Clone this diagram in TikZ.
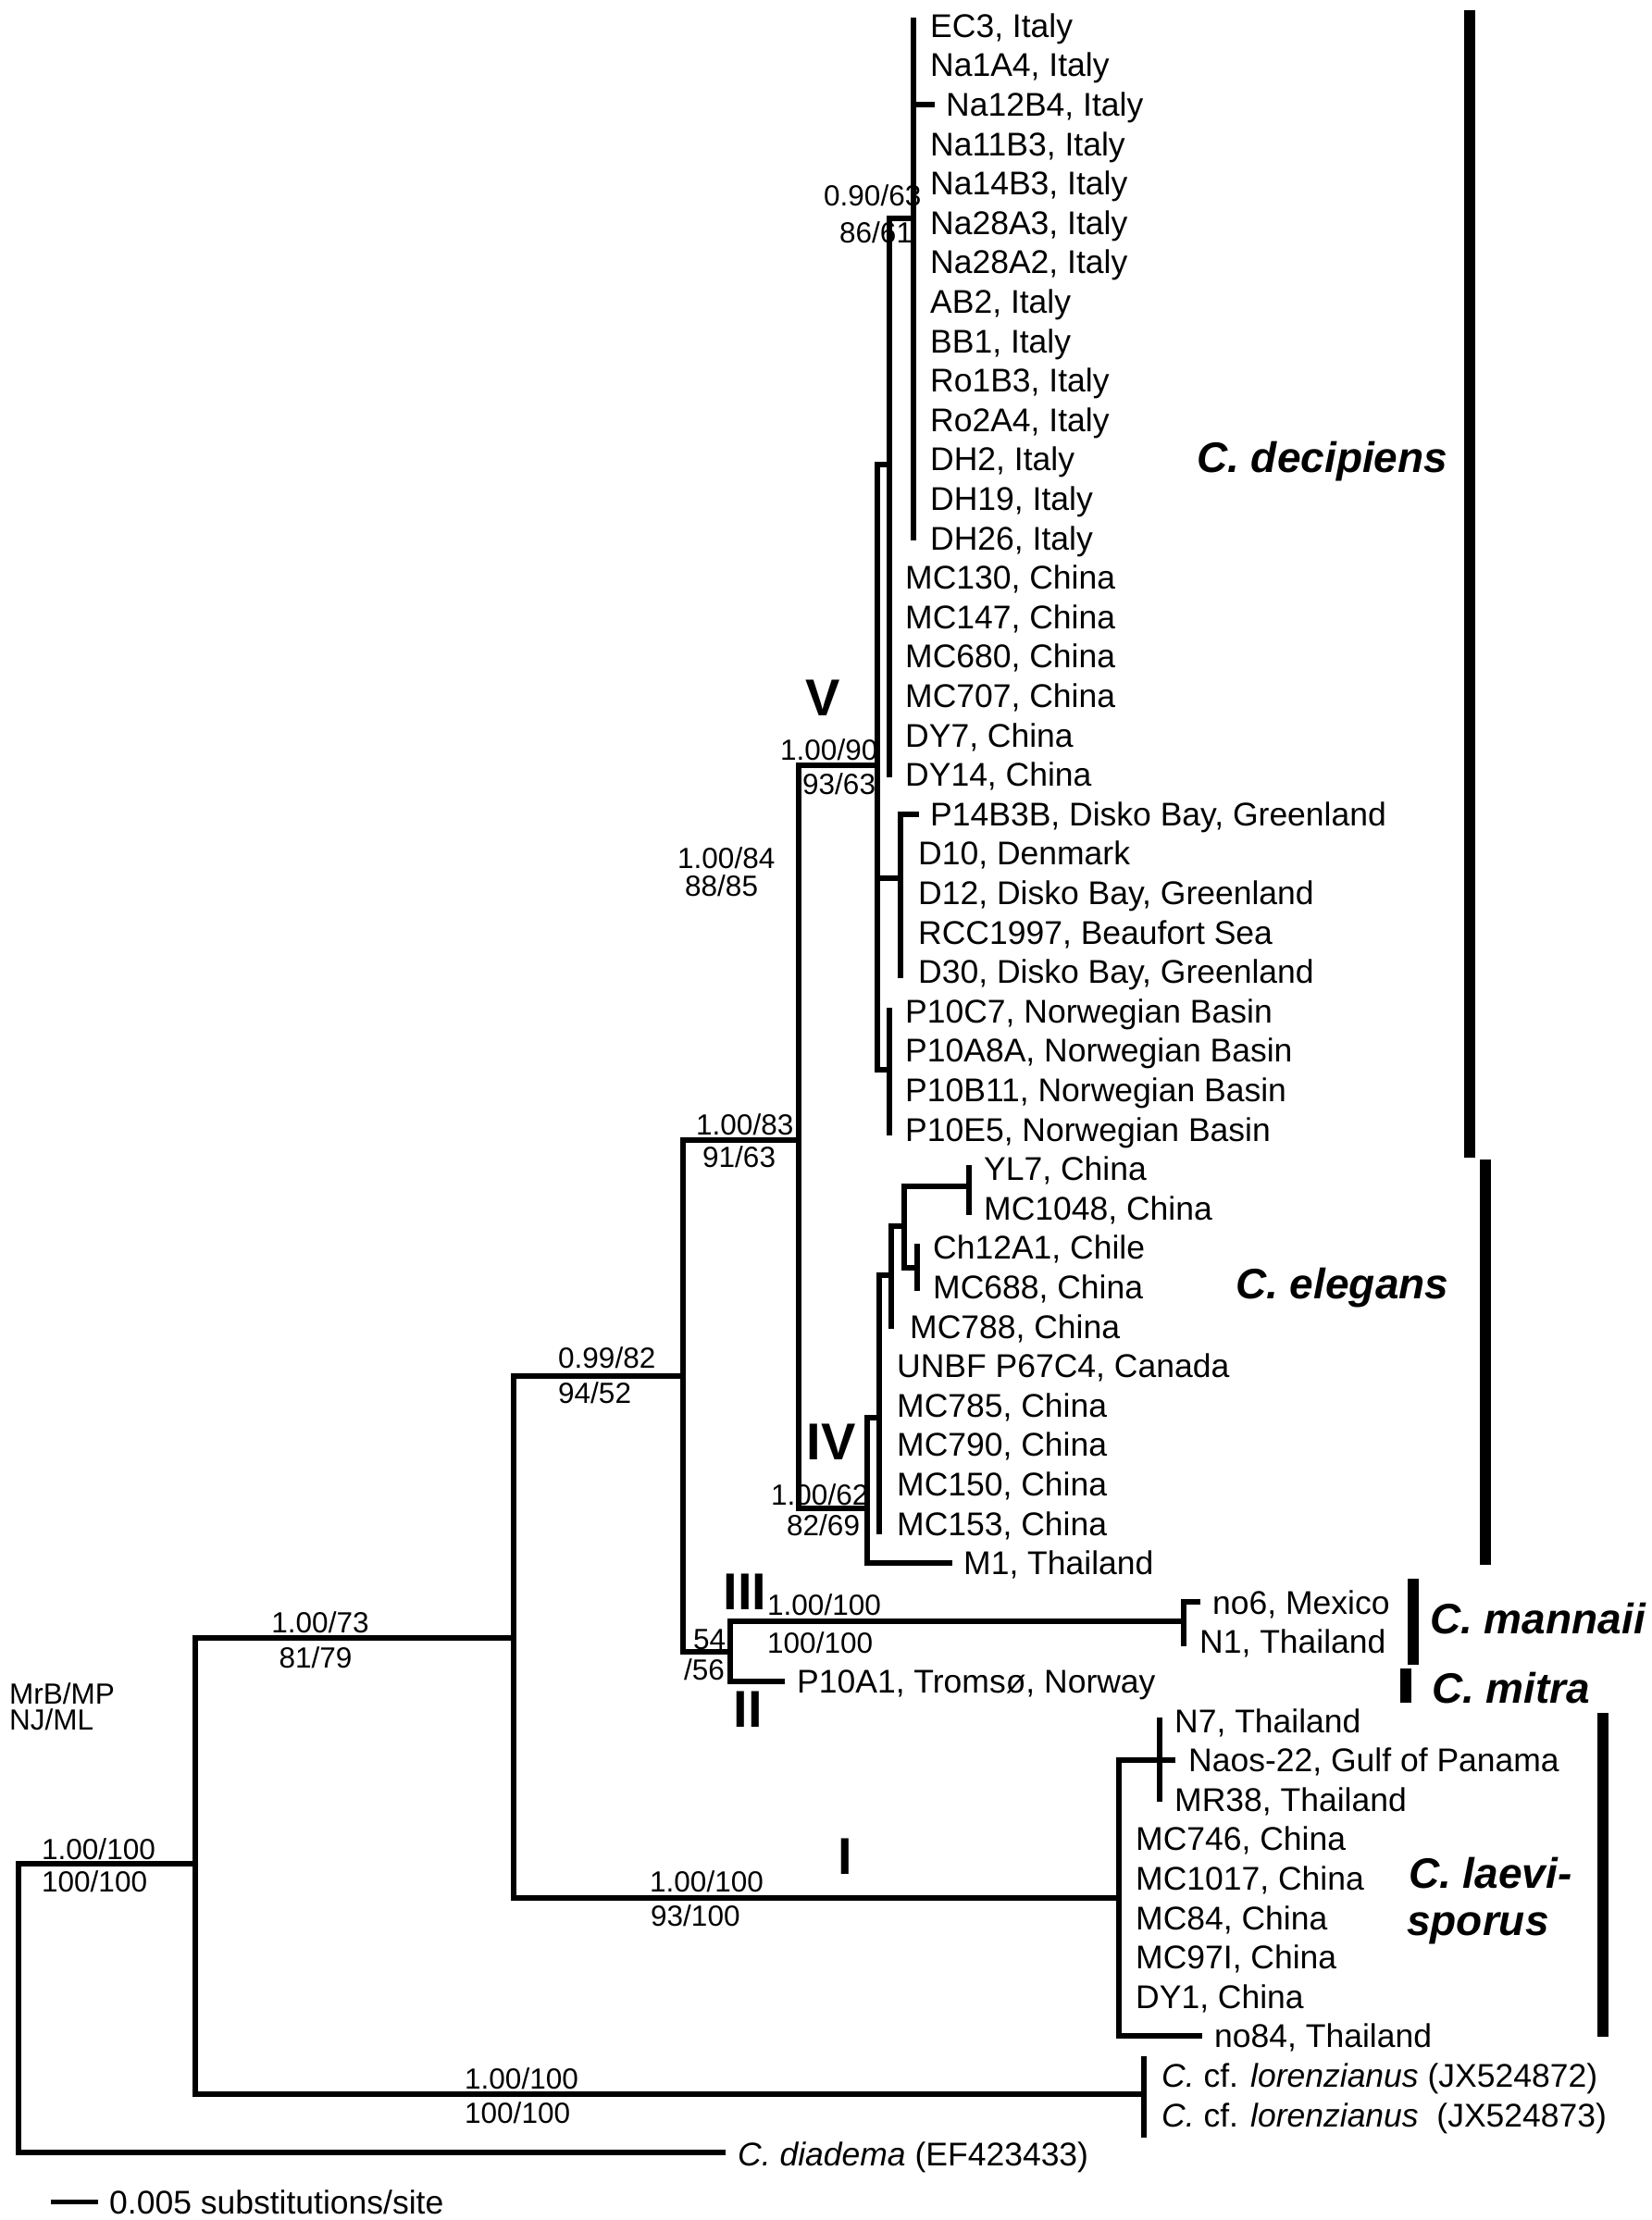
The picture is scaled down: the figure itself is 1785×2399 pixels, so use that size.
\documentclass[tikz,border=0pt]{standalone}
\usepackage{fontspec}
\setmainfont{Liberation Sans}
\begin{document}
\begin{tikzpicture}[x=1pt,y=-1pt,
  br/.style={line width=6pt,line cap=rect,line join=miter},
  bar/.style={line width=12pt,line cap=butt},
  leaf/.style={anchor=base west,inner sep=0pt,font=\fontsize{35.5}{40}\selectfont},
  sup/.style={anchor=base west,inner sep=0pt,font=\fontsize{31.5}{34}\selectfont},
  supc/.style={anchor=base,inner sep=0pt,font=\fontsize{31.5}{34}\selectfont},
  spec/.style={anchor=base west,inner sep=0pt,font=\fontsize{46}{50}\selectfont\bfseries\itshape},
  rom/.style={anchor=base,inner sep=0pt,font=\fontsize{56}{60}\selectfont\bfseries}]
\useasboundingbox (0,0) rectangle (1785,2399);
\fill[white] (0,0) rectangle (1785,2399);

% ---------- leaf labels ----------
\foreach \i/\x/\t in {
 0/1005/{EC3, Italy}, 1/1005/{Na1A4, Italy}, 2/1022/{Na12B4, Italy},
 3/1005/{Na11B3, Italy}, 4/1005/{Na14B3, Italy}, 5/1005/{Na28A3, Italy},
 6/1005/{Na28A2, Italy}, 7/1005/{AB2, Italy}, 8/1005/{BB1, Italy},
 9/1005/{Ro1B3, Italy}, 10/1005/{Ro2A4, Italy}, 11/1005/{DH2, Italy},
 12/1005/{DH19, Italy}, 13/1005/{DH26, Italy},
 14/978/{MC130, China}, 15/978/{MC147, China}, 16/978/{MC680, China},
 17/978/{MC707, China}, 18/978/{DY7, China}, 19/978/{DY14, China},
 20/1005/{P14B3B, Disko Bay, Greenland}, 21/992/{D10, Denmark},
 22/992/{D12, Disko Bay, Greenland}, 23/992/{RCC1997, Beaufort Sea},
 24/992/{D30, Disko Bay, Greenland},
 25/978/{P10C7, Norwegian Basin}, 26/978/{P10A8A, Norwegian Basin},
 27/978/{P10B11, Norwegian Basin}, 28/978/{P10E5, Norwegian Basin},
 29/1063/{YL7, China}, 30/1063/{MC1048, China},
 31/1008/{Ch12A1, Chile}, 32/1008/{MC688, China}, 33/983/{MC788, China},
 34/969/{UNBF P67C4, Canada}, 35/969/{MC785, China}, 36/969/{MC790, China},
 37/969/{MC150, China}, 38/969/{MC153, China}, 39/1041/{M1, Thailand},
 40/1310/{no6, Mexico}, 41/1296/{N1, Thailand},
 42/861/{P10A1, Tromsø, Norway},
 43/1269/{N7, Thailand}, 44/1284/{Naos-22, Gulf of Panama}, 45/1269/{MR38, Thailand},
 46/1227/{MC746, China}, 47/1227/{MC1017, China}, 48/1227/{MC84, China},
 49/1227/{MC97I, China}, 50/1227/{DY1, China}, 51/1312/{no84, Thailand},
 52/1255/{\textit{C.} cf. \textit{lorenzianus} (JX524872)},
 53/1255/{\textit{C.} cf. \textit{lorenzianus}\ \ (JX524873)},
 54/797/{\textit{C. diadema} (EF423433)}}
 \node[leaf] (L\i) at (\x,{40.2+42.6*\i}) {\t};

% ---------- support values ----------
\node[sup] (s1a) at (45,2009) {1.00/100};
\node[sup] (s1b) at (45,2044) {100/100};
\node[supc] (s2a) at (346,1764) {1.00/73};
\node[supc] (s2b) at (341,1802) {81/79};
\node[sup] (s3a) at (502,2257) {1.00/100};
\node[sup] (s3b) at (502,2294) {100/100};
\node[sup] (s4a) at (702,2044) {1.00/100};
\node[sup] (s4b) at (703,2081) {93/100};
\node[sup] (s5a) at (603,1478) {0.99/82};
\node[sup] (s5b) at (603,1516) {94/52};
\node[sup] (s6a) at (752,1226) {1.00/83};
\node[sup] (s6b) at (759,1261) {91/63};
\node[sup] (s7a) at (843,821) {1.00/90};
\node[sup] (s7b) at (867,858) {93/63};
\node[sup] (s8a) at (732,938) {1.00/84};
\node[sup] (s8b) at (740,968) {88/85};
\node[sup] (s9a) at (890,222) {0.90/63};
\node[sup] (s9b) at (907,262) {86/61};
\node[sup] (s10a) at (833,1626) {1.00/62};
\node[sup] (s10b) at (850,1659) {82/69};
\node[sup] (s11a) at (829,1745) {1.00/100};
\node[sup] (s11b) at (829,1786) {100/100};
\node[sup] (s12a) at (749,1782) {54};
\node[sup] (s12b) at (739,1815) {/56};
\node[sup] (mrb) at (10,1841) {MrB/MP};
\node[sup] (njml) at (10,1869) {NJ/ML};

% ---------- clade numerals ----------
\node[rom] (rV) at (889,773) {V};
\node[rom] (rIV) at (898,1577) {IV};
\node[rom] (rIII) at (805,1739) {III};
\node[rom] (rII) at (808,1866) {II};
\node[rom] (rI) at (913,2025) {I};

% ---------- tree coordinates ----------
\coordinate (root) at (20,2014);
\coordinate (A) at (211,2014);
\coordinate (dia) at (781,2326);
\coordinate (B) at (555,1770);
\coordinate (lorN) at (1236,2263);
\coordinate (lorT) at (1236,2225);
\coordinate (lorB) at (1236,2307);
\coordinate (C) at (738,1487);
\coordinate (I) at (1209,2051);
\coordinate (D) at (863,1232);
\coordinate (N54) at (789,1785);
\coordinate (V) at (948,827);
\coordinate (IV) at (937,1630);
\coordinate (V1) at (961,502);
\coordinate (V1B) at (961,837);
\coordinate (Ital) at (987,236);
\coordinate (ItalT) at (987,22);
\coordinate (ItalB) at (987,581);
\coordinate (tNa12) at (1007,112.7);
\coordinate (Disko) at (973,948.5);
\coordinate (DiskoT) at (973,879.5);
\coordinate (DiskoB) at (973,1054);
\coordinate (tP14) at (990,879.5);
\coordinate (P10) at (961,1156);
\coordinate (P10T) at (961,1092);
\coordinate (P10B) at (961,1224);
\coordinate (IVa) at (950,1532);
\coordinate (IVaB) at (950,1655);
\coordinate (tM1) at (1026,1689);
\coordinate (IVb) at (963,1378);
\coordinate (IVbB) at (963,1433);
\coordinate (IVc) at (977,1325);
\coordinate (IVd) at (991,1370);
\coordinate (IVdT) at (991,1347);
\coordinate (IVdB) at (991,1392);
\coordinate (IVe) at (1047,1282);
\coordinate (IVeT) at (1047,1262);
\coordinate (IVeB) at (1047,1310);
\coordinate (mann) at (1279,1752);
\coordinate (mannT) at (1279,1731);
\coordinate (mannB) at (1279,1776);
\coordinate (tno6) at (1294,1731);
\coordinate (tP10A1) at (845,1817);
\coordinate (tNaos) at (1267,1902);
\coordinate (IsT) at (1253,1859);
\coordinate (IsB) at (1253,1944);
\coordinate (tno84) at (1296,2200);

% ---------- branches ----------
\draw[br] (root) -- (A);
\draw[br] (root) |- (dia);
\draw[br] (A) |- (B);
\draw[br] (A) |- (lorN);
\draw[br] (lorT) -- (lorB);
\draw[br] (B) |- (C);
\draw[br] (B) |- (I);
\draw[br] (C) |- (D);
\draw[br] (C) |- (N54);
\draw[br] (N54) |- (mann);
\draw[br] (N54) |- (tP10A1);
\draw[br] (mannT) -- (mannB);
\draw[br] (mannT) -- (tno6);
\draw[br] (D) |- (V);
\draw[br] (D) |- (IV);
\draw[br] (V) |- (V1);
\draw[br] (V) |- (Disko);
\draw[br] (V) |- (P10);
\draw[br] (V1) |- (Ital);
\draw[br] (V1) -- (V1B);
\draw[br] (ItalT) -- (ItalB);
\draw[br] (Ital) |- (tNa12);
\draw[br] (DiskoT) -- (DiskoB);
\draw[br] (DiskoT) -- (tP14);
\draw[br] (P10T) -- (P10B);
\draw[br] (IV) |- (IVa);
\draw[br] (IV) |- (tM1);
\draw[br] (IVa) -- (IVaB);
\draw[br] (IVa) |- (IVb);
\draw[br] (IVb) -- (IVbB);
\draw[br] (IVb) |- (IVc);
\draw[br] (IVc) |- (IVd);
\draw[br] (IVc) |- (IVe);
\draw[br] (IVdT) -- (IVdB);
\draw[br] (IVeT) -- (IVeB);
\draw[br] (I) |- (tNaos);
\draw[br] (IsT) -- (IsB);
\draw[br] (I) |- (tno84);

% ---------- species bars and names ----------
\coordinate (bdT) at (1588,11);   \coordinate (bdB) at (1588,1251);
\coordinate (beT) at (1605,1253); \coordinate (beB) at (1605,1691);
\coordinate (bmaT) at (1527,1706); \coordinate (bmaB) at (1527,1799);
\coordinate (bmiT) at (1519,1803); \coordinate (bmiB) at (1519,1840);
\coordinate (blT) at (1732,1851); \coordinate (blB) at (1732,2201);
\draw[bar] (bdT) -- (bdB);
\draw[bar] (beT) -- (beB);
\draw[bar] (bmaT) -- (bmaB);
\draw[bar] (bmiT) -- (bmiB);
\draw[bar] (blT) -- (blB);
\node[spec] (ndec) at (1293,510) {C. decipiens};
\node[spec] (nele) at (1335,1403) {C. elegans};
\node[spec] (nman) at (1545,1765) {C. mannaii};
\node[spec] (nmit) at (1547,1840) {C. mitra};
\node[spec] (nlae) at (1522,2040) {C. laevi-};
\node[spec] (nspo) at (1520,2091) {sporus};

% ---------- scale bar ----------
\coordinate (sb1) at (55,2379);
\coordinate (sb2) at (106,2379);
\draw[line width=5pt] (sb1) -- (sb2);
\node[leaf] (sbt) at (118,2392) {0.005 substitutions/site};
\end{tikzpicture}
\end{document}
